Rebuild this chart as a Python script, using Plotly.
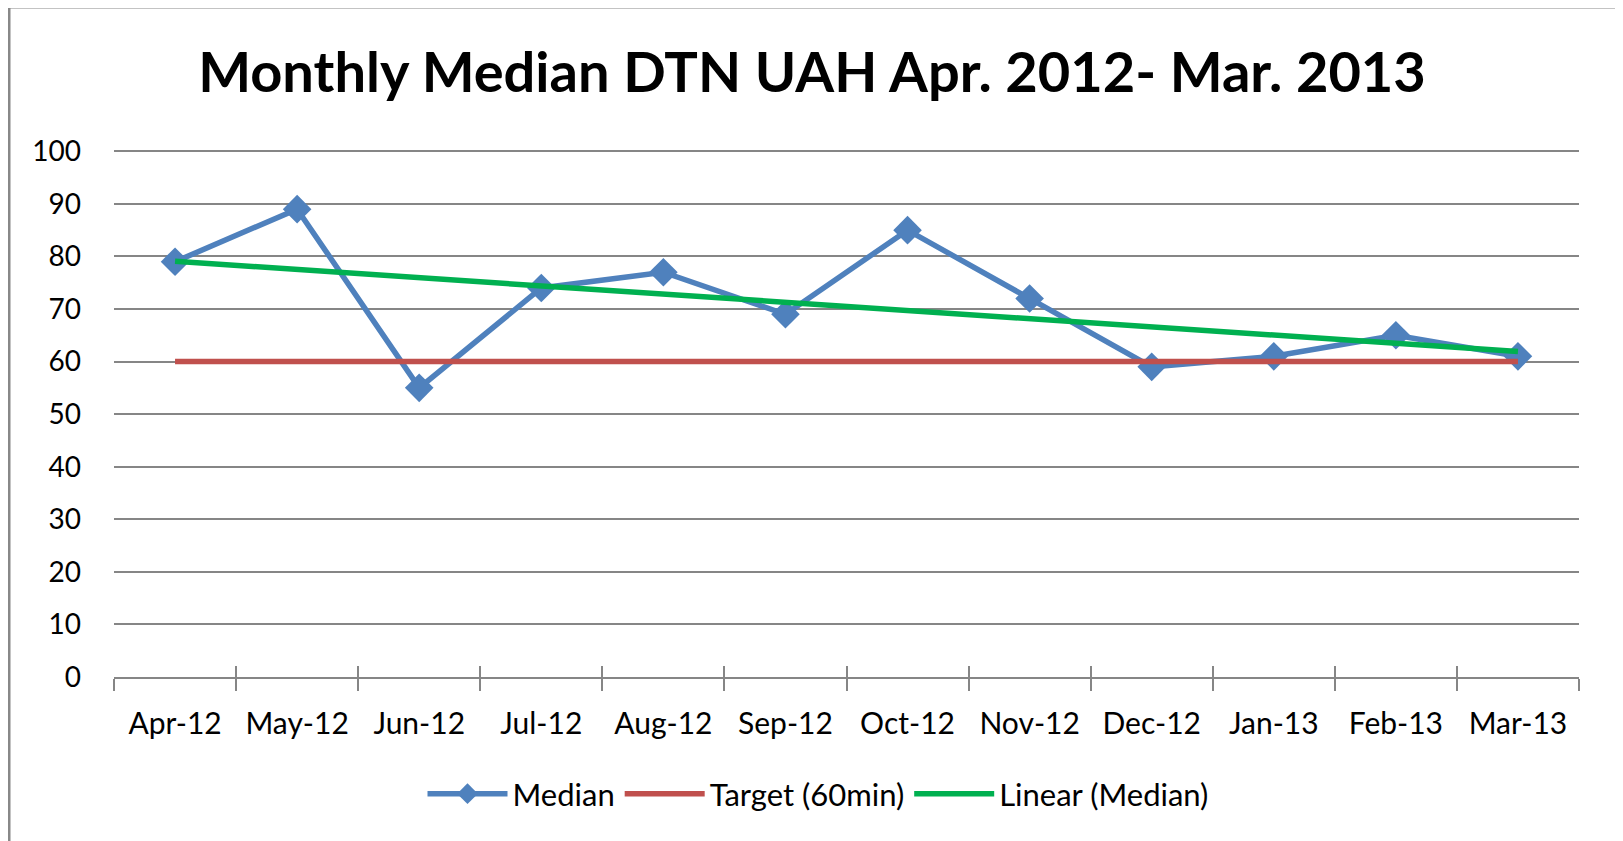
import numpy as np
import plotly.graph_objects as go

months = ["Apr-12", "May-12", "Jun-12", "Jul-12", "Aug-12", "Sep-12",
          "Oct-12", "Nov-12", "Dec-12", "Jan-13", "Feb-13", "Mar-13"]
median = [79, 89, 55, 74, 77, 69, 85, 72, 59, 61, 65, 61]
target = [60] * len(months)
y_ticks = [0, 10, 20, 30, 40, 50, 60, 70, 80, 90, 100]

# Excel-style linear trendline fitted on the median values
xi = np.arange(1, len(median) + 1)
slope, intercept = np.polyfit(xi, median, 1)
trend = list(slope * xi + intercept)

FONT = "Lato"
fig = go.Figure()
fig.add_trace(go.Scatter(
    x=months, y=median, name="Median", mode="lines+markers",
    line=dict(color="#4F81BD", width=5.5),
    marker=dict(symbol="diamond", size=22, color="#4F81BD"),
))
fig.add_trace(go.Scatter(
    x=months, y=target, name="Target (60min)", mode="lines",
    line=dict(color="#C0504D", width=5.5),
))
fig.add_trace(go.Scatter(
    x=months, y=trend, name="Linear (Median)", mode="lines",
    line=dict(color="#00B050", width=5.5),
))
# invisible trace to carry the overlaid axis for crossing tick marks
fig.add_trace(go.Scatter(
    x=months, y=median, xaxis="x2", mode="markers", showlegend=False,
    marker=dict(opacity=0), hoverinfo="skip",
))

OFF = 8  # browser body margin
W, H = 1623, 841
L, R, T, B = 114 - OFF, W - (1579 - OFF), 150 - OFF, H - (677 - OFF)
pw, ph = W - L - R, H - T - B

def px_x(p):
    return (p - OFF - L) / pw

def px_y(p):
    return (H - B - (p - OFF)) / ph

fig.update_layout(
    width=W, height=H,
    margin=dict(l=L, r=R, t=T, b=B),
    paper_bgcolor="white", plot_bgcolor="white",
    font=dict(family=FONT, color="#000000", size=28),
    title=dict(text="<b>Monthly Median DTN UAH Apr. 2012- Mar. 2013</b>",
               x=px_x(812), xref="paper", xanchor="center",
               y=1 - (72 - OFF) / H, yref="container", yanchor="middle",
               font=dict(family=FONT, size=56, color="#000000")),
    xaxis=dict(
        type="category", categoryorder="array", categoryarray=months,
        range=[-0.5, len(months) - 0.5],
        showgrid=False, showline=True, linecolor="#868686", linewidth=1.5,
        ticks="outside", tickson="boundaries", ticklen=12,
        tickcolor="#868686", tickwidth=1.5,
        tickfont=dict(family=FONT, size=30, color="#000000"),
        ticklabelstandoff=19,
    ),
    xaxis2=dict(
        type="category", matches="x", overlaying="x", side="bottom",
        showgrid=False, showline=False, showticklabels=False,
        ticks="inside", tickson="boundaries", ticklen=11,
        tickcolor="#868686", tickwidth=1.5,
    ),
    yaxis=dict(
        range=[0, 100.25], tickvals=y_ticks, showline=False,
        showgrid=True, gridcolor="#868686", gridwidth=1.5,
        zeroline=False, ticks="", ticklabelstandoff=32,
        tickfont=dict(family=FONT, size=28, color="#000000"),
    ),
    legend=dict(
        orientation="h", x=px_x(818), xanchor="center",
        y=px_y(794), yanchor="middle",
        font=dict(family=FONT, size=31, color="#000000"),
        itemwidth=80, tracegroupgap=0,
        bgcolor="rgba(0,0,0,0)",
    ),
    showlegend=True,
    shapes=[dict(
        type="rect", xref="paper", yref="paper",
        x0=px_x(9), x1=px_x(1617), y0=px_y(900), y1=px_y(7),
        line=dict(color="#888888", width=3), fillcolor="rgba(0,0,0,0)",
        layer="below",
    )],
)

fig.write_html("out.html")
